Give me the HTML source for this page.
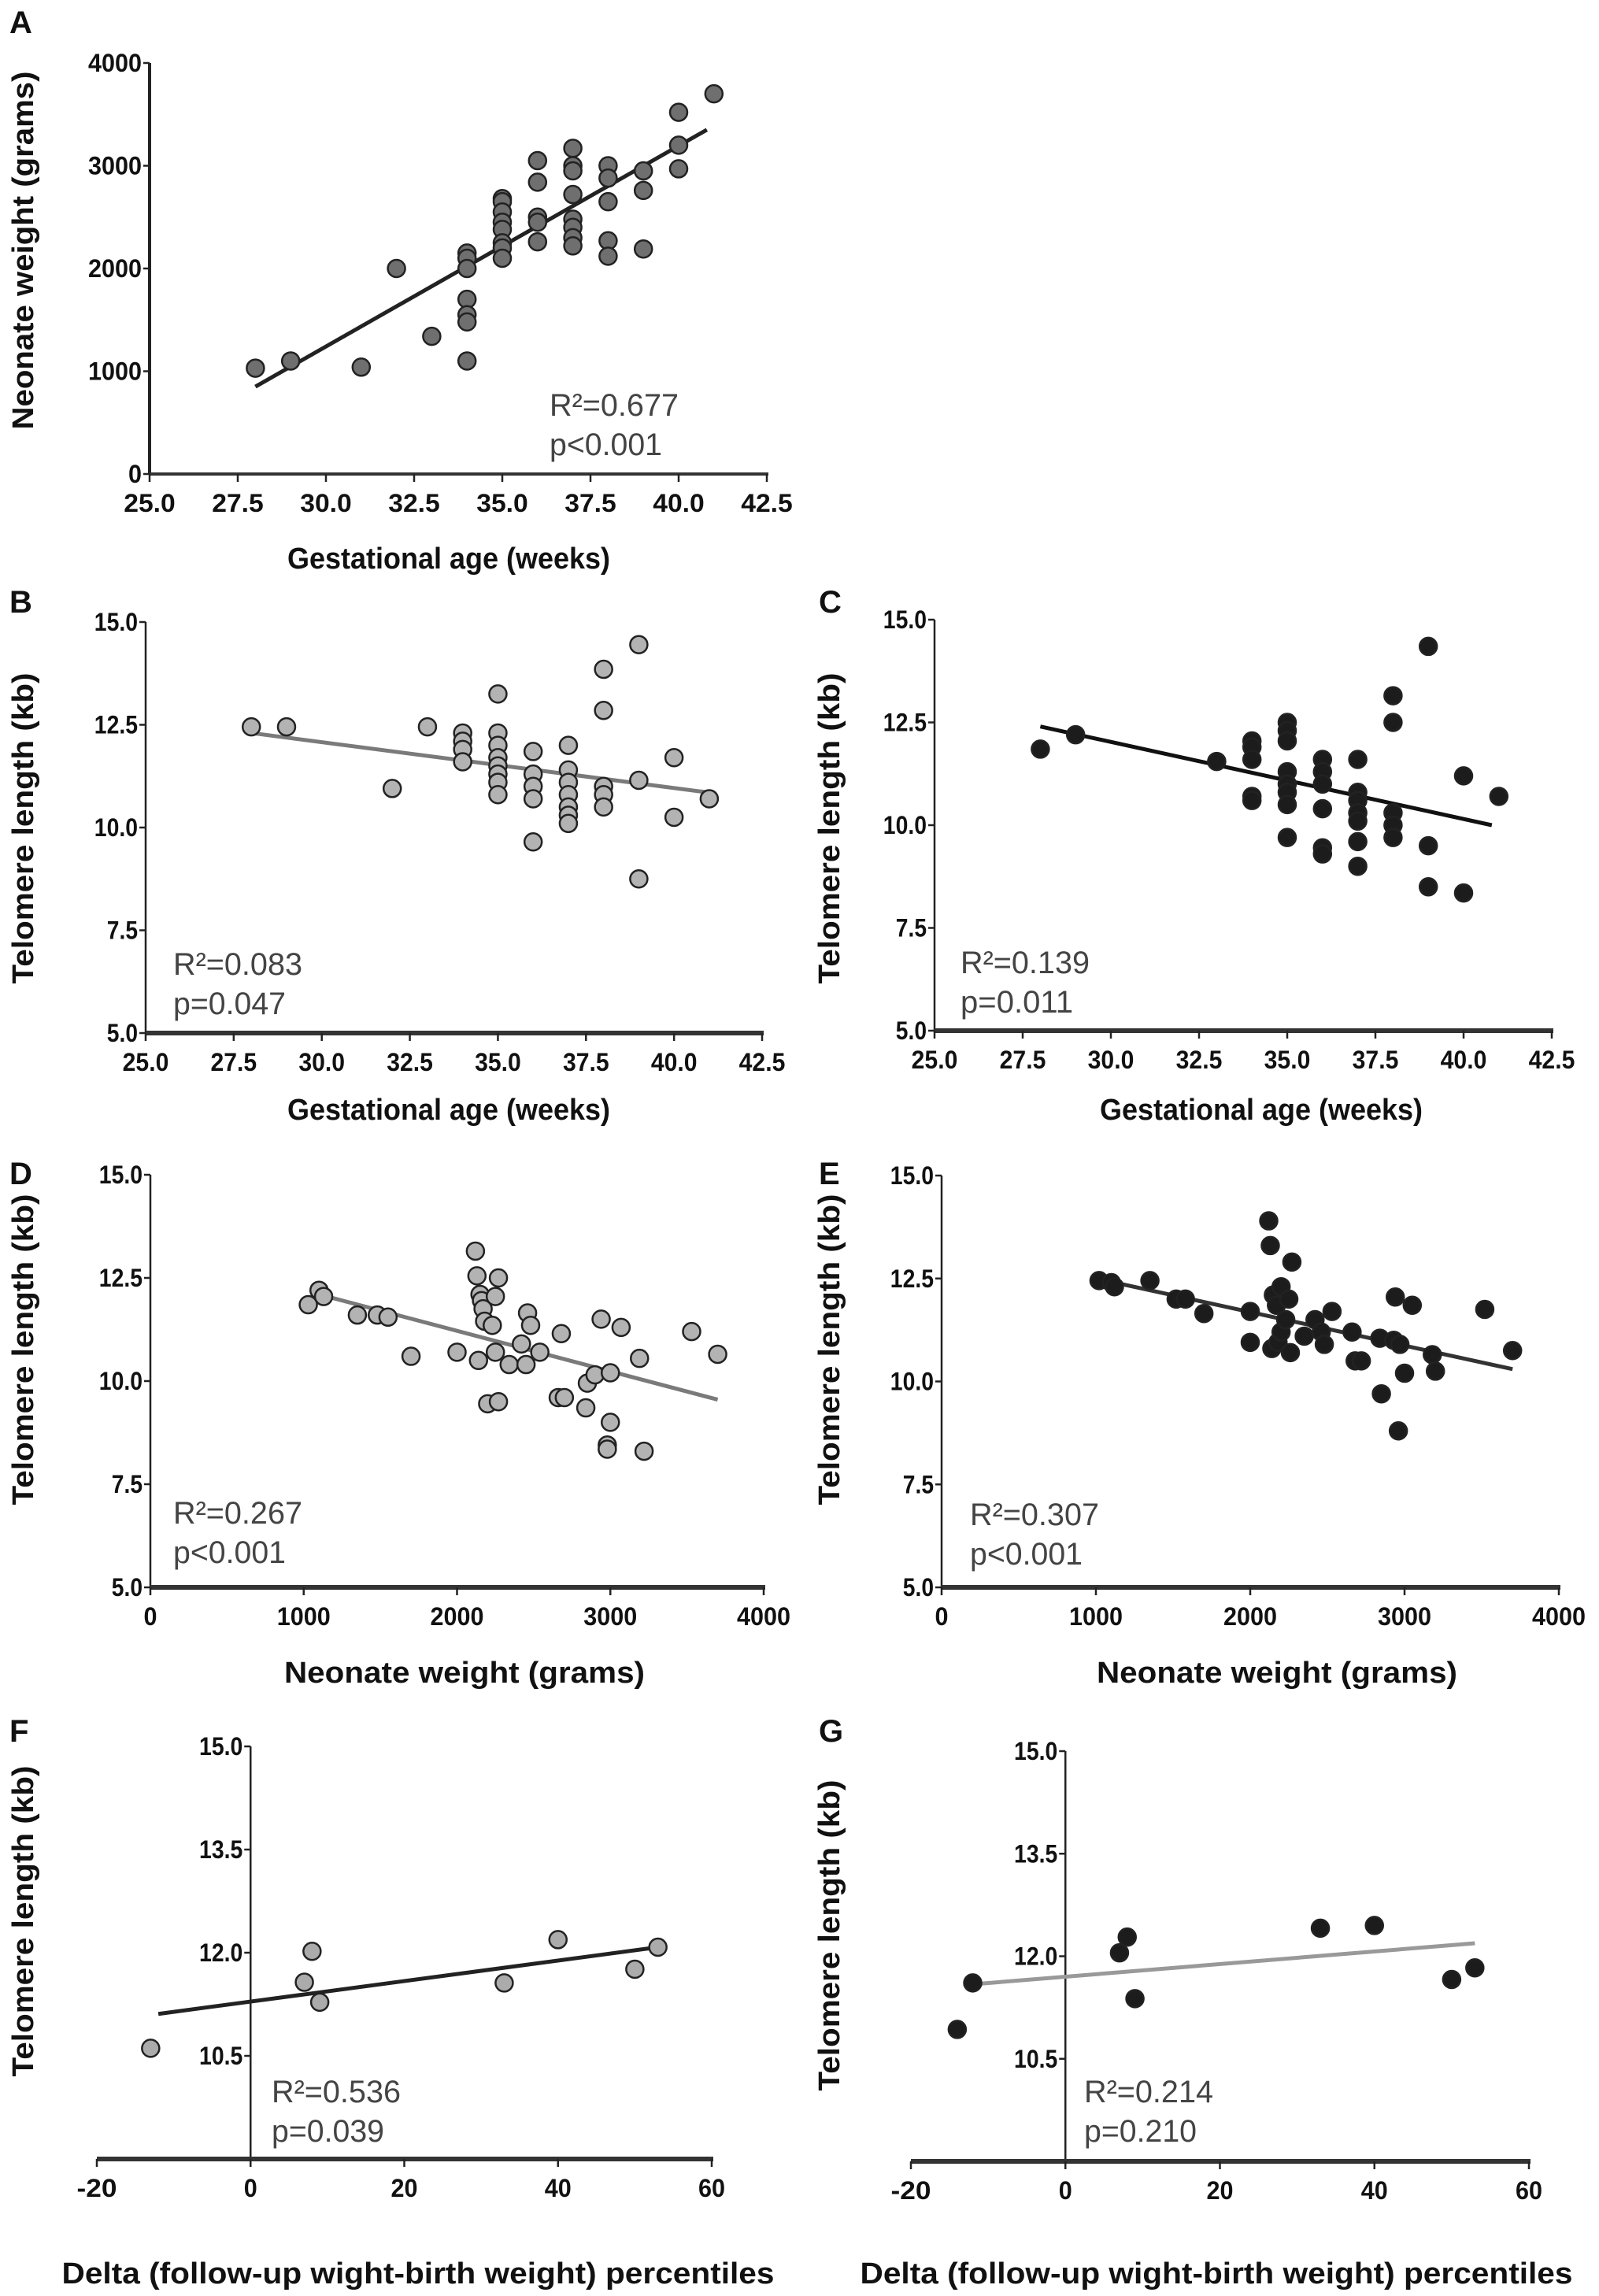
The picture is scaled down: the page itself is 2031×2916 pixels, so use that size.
<!DOCTYPE html>
<html><head><meta charset="utf-8"><style>
html,body{margin:0;padding:0;background:#fff;}
svg{display:block;font-family:"Liberation Sans",Arial,sans-serif;}
</style></head><body>
<svg id="fig" width="2031" height="2916" viewBox="0 0 2031 2916" xmlns="http://www.w3.org/2000/svg"></svg>
<script>
// Panel A: gestational age vs neonate weight
const aX=[28,29,31,32,33,34,34,34,34,34,34,34,35,35,35,35,35,35,35,35,36,36,36,36,36,37,37,37,37,37,37,37,37,38,38,38,38,38,39,39,39,40,40,40,41];
const aY=[1030,1100,1040,2000,1340,2150,2100,2000,1700,1550,1480,1100,2680,2650,2550,2450,2380,2250,2200,2100,3050,2840,2500,2450,2260,3170,3000,2950,2720,2480,2400,2300,2220,3000,2880,2650,2270,2120,2950,2760,2190,3520,3200,2970,3700];
const aFit=[[28,850],[40.8,3350]];
// Panel B
const bX=[28,29,32,33,34,34,34,34,35,35,35,35,35,35,35,35,36,36,36,36,36,37,37,37,37,37,37,37,38,38,38,38,38,39,39,39,40,40,41];
const bY=[12.45,12.45,10.95,12.45,12.3,12.1,11.9,11.6,13.25,12.3,12.0,11.7,11.5,11.3,11.1,10.8,11.85,11.3,11.0,10.7,9.65,12.0,11.4,11.1,10.8,10.5,10.3,10.1,13.85,12.85,11.0,10.8,10.5,14.45,11.15,8.75,11.7,10.25,10.7];
const bFit=[[28,12.3],[41,10.85]];
// Panel C
const cX=[28,29,33,34,34,34,34,34,35,35,35,35,35,35,35,35,36,36,36,36,36,36,37,37,37,37,37,37,37,38,38,38,38,38,39,39,39,40,40,41];
const cY=[11.85,12.2,11.55,12.05,11.9,11.6,10.7,10.6,12.5,12.3,12.05,11.3,11.0,10.8,10.5,9.7,11.6,11.3,11.0,10.4,9.45,9.3,11.6,10.8,10.6,10.3,10.1,9.6,9.0,13.15,12.5,10.3,10.0,9.7,14.35,9.5,8.5,11.2,8.35,10.7];
const cFit=[[28,12.4],[40.8,10.0]];
// Panel D
const dX=[1030,1100,1130,1350,1480,1550,1700,2000,2120,2130,2150,2160,2170,2180,2140,2200,2230,2250,2270,2250,2270,2340,2420,2460,2480,2450,2540,2680,2660,2700,2850,2840,2940,2900,2980,2980,3000,3000,3070,3190,3220,3530,3700];
const dY=[11.85,12.2,12.05,11.6,11.6,11.55,10.6,10.7,13.15,12.55,12.1,11.95,11.75,11.45,10.5,9.45,11.35,12.05,12.5,10.7,9.5,10.4,10.9,11.65,11.35,10.4,10.7,11.15,9.6,9.6,9.95,9.35,11.5,10.15,8.45,8.35,10.2,9.0,11.3,10.55,8.3,11.2,10.65];
const dFit=[[1100,12.1],[3700,9.55]];
// Panel E
const eX=[1020,1100,1120,1350,1520,1580,1700,2000,2000,2120,2130,2150,2170,2140,2180,2200,2200,2230,2250,2270,2260,2350,2420,2460,2480,2530,2660,2680,2720,2840,2850,2930,2940,2970,2960,3000,3050,3180,3200,3520,3700];
const eY=[12.45,12.4,12.3,12.45,12.0,12.0,11.65,11.7,10.95,13.9,13.3,12.1,11.85,10.8,10.95,12.3,11.2,11.5,12.0,12.9,10.7,11.1,11.5,11.2,10.9,11.7,11.2,10.5,10.5,11.05,9.7,11.0,12.05,10.9,8.8,10.2,11.85,10.65,10.25,11.75,10.75];
const eFit=[[1000,12.5],[3700,10.3]];
// Panel F
const fX=[-13,7,8,9,33,40,50,53];
const fY=[10.61,11.57,12.02,11.28,11.56,12.19,11.76,12.08];
const fFit=[[-12,11.11],[53,12.08]];
// Panel G
const gX=[-14,-12,7,8,9,33,40,50,53];
const gY=[10.93,11.61,12.05,12.28,11.38,12.41,12.45,11.66,11.83];
const gFit=[[-12,11.59],[53,12.19]];
// tick labels
const gaTicks=["25.0","27.5","30.0","32.5","35.0","37.5","40.0","42.5"];
const wTicks=["0","1000","2000","3000","4000"];
const tlTicks=["5.0","7.5","10.0","12.5","15.0"];
const fgYTicks=["10.5","12.0","13.5","15.0"];
const fgXTicks=["-20","0","20","40","60"];

const NS="http://www.w3.org/2000/svg";
const svg=document.getElementById('fig');
function mk(tag,attrs,parent){const e=document.createElementNS(NS,tag);for(const k in attrs){if(attrs[k]!==null)e.setAttribute(k,attrs[k]);}(parent||svg).appendChild(e);return e;}
function txt(s,attrs,parent){const e=mk('text',attrs,parent);e.textContent=s;return e;}
function tw(s,perChar,perDot){let w=0;for(const ch of s){w+=(ch==='.')?perDot:perChar;}return w;}

function panel(p){
  const g=mk('g',{});
  
  
  const sx=v=>p.x0+(v-p.xd[0])/(p.xd[1]-p.xd[0])*(p.x1-p.x0);
  const sy=v=>p.y0-(v-p.yd[0])/(p.yd[1]-p.yd[0])*(p.y0-p.y1);
  const yAxisX=p.yAxisAt!==undefined?sx(p.yAxisAt):p.x0;
  const ya=mk('line',{x1:yAxisX,y1:p.y1,x2:yAxisX,y2:p.y0,stroke:'#222','stroke-width':p.yw},g);
  
  
  const xa=mk('line',{x1:p.x0,y1:p.y0,x2:p.x1+2,y2:p.y0,stroke:'#333','stroke-width':p.xw},g);
  
  
  p.yt.forEach(s=>{const v=parseFloat(s),y=sy(v);
    mk('line',{x1:yAxisX-8,y1:y,x2:yAxisX,y2:y,stroke:'#222','stroke-width':2.5},g);
    const t=txt(s,{x:yAxisX-10,y:y+11,'text-anchor':'end','font-size':p.tfs,'font-weight':'bold',fill:'#111',textLength:tw(s,p.ycw,p.ycw*0.45),lengthAdjust:'spacingAndGlyphs'},g);
    
    
  });
  p.xt.forEach(s=>{const v=parseFloat(s),x=sx(v);
    mk('line',{x1:x,y1:p.y0,x2:x,y2:p.y0+10,stroke:'#222','stroke-width':2.5},g);
    const t=txt(s,{x:x,y:p.y0+p.xlo,'text-anchor':'middle','font-size':p.tfs,'font-weight':'bold',fill:'#111',textLength:tw(s,p.xcw,p.xcw*0.45),lengthAdjust:'spacingAndGlyphs'},g);
    
    
  });
  const fl=mk('line',{x1:sx(p.fit[0][0]),y1:sy(p.fit[0][1]),x2:sx(p.fit[1][0]),y2:sy(p.fit[1][1]),stroke:p.lc,'stroke-width':5},g);
  
  
  p.xs.forEach((xv,i)=>{
    const c=mk('circle',{cx:sx(xv),cy:sy(p.ys[i]),r:11,fill:p.fc,stroke:'#222','stroke-width':2.5},g);
    
    
  });
  const l=txt(p.id,{x:p.lx,y:p.ly,'font-size':40,'font-weight':'bold',fill:'#111'},g);
  
  
  const s1=txt(p.r2,{x:p.sx,y:p.sy,'font-size':40,fill:'#444',textLength:164,lengthAdjust:'spacingAndGlyphs'},g);
  
  
  const s2=txt(p.pv,{x:p.sx,y:p.sy+50,'font-size':40,fill:'#444',textLength:143,lengthAdjust:'spacingAndGlyphs'},g);
  
  
  const xt=txt(p.xtitle,{x:p.xtx,y:p.xty,'text-anchor':'middle','font-size':38,'font-weight':'bold',fill:'#111',textLength:p.xtl,lengthAdjust:'spacingAndGlyphs'},g);
  
  
  const yt=txt(p.ytitle,{x:0,y:0,'text-anchor':'middle','font-size':38,'font-weight':'bold',fill:'#111',textLength:p.ytl,lengthAdjust:'spacingAndGlyphs',transform:`translate(${p.ytx},${p.yty}) rotate(-90)`},g);
  
  
}

panel({id:'A',x0:190,x1:974,y0:602,y1:80,xd:[25,42.5],yd:[0,4000],xt:gaTicks,yt:["0","1000","2000","3000","4000"],
 xs:aX,ys:aY,fit:aFit,fc:'#6f6f6f',lc:'#222',yw:4,xw:4,tfs:32,xlo:48,ycw:17,xcw:19,
 lx:12,ly:42,r2:'R²=0.677',pv:'p<0.001',sx:698,sy:528,xtitle:'Gestational age (weeks)',xtx:570,xty:722,xtl:410,ytitle:'Neonate weight (grams)',ytx:42,yty:318,ytl:455});
panel({id:'B',x0:185,x1:968,y0:1312,y1:790,xd:[25,42.5],yd:[5,15],xt:gaTicks,yt:tlTicks,
 xs:bX,ys:bY,fit:bFit,fc:'#b3b3b3',lc:'#7a7a7a',yw:2.5,xw:6,tfs:32,xlo:48,ycw:16,xcw:17,
 lx:12,ly:778,r2:'R²=0.083',pv:'p=0.047',sx:220,sy:1238,xtitle:'Gestational age (weeks)',xtx:570,xty:1422,xtl:410,ytitle:'Telomere length (kb)',ytx:42,yty:1052,ytl:395});
panel({id:'C',x0:1187,x1:1971,y0:1309,y1:787,xd:[25,42.5],yd:[5,15],xt:gaTicks,yt:tlTicks,
 xs:cX,ys:cY,fit:cFit,fc:'#1c1c1c',lc:'#111',yw:2.5,xw:6,tfs:32,xlo:48,ycw:16,xcw:17,
 lx:1040,ly:778,r2:'R²=0.139',pv:'p=0.011',sx:1220,sy:1236,xtitle:'Gestational age (weeks)',xtx:1602,xty:1422,xtl:410,ytitle:'Telomere length (kb)',ytx:1066,yty:1052,ytl:395});
panel({id:'D',x0:191,x1:970,y0:2016,y1:1492,xd:[0,4000],yd:[5,15],xt:wTicks,yt:tlTicks,
 xs:dX,ys:dY,fit:dFit,fc:'#b3b3b3',lc:'#7a7a7a',yw:2.5,xw:6,tfs:32,xlo:48,ycw:16,xcw:17,
 lx:12,ly:1504,r2:'R²=0.267',pv:'p<0.001',sx:220,sy:1935,xtitle:'Neonate weight (grams)',xtx:590,xty:2137,xtl:458,ytitle:'Telomere length (kb)',ytx:42,yty:1714,ytl:395});
panel({id:'E',x0:1196,x1:1980,y0:2016,y1:1493,xd:[0,4000],yd:[5,15],xt:wTicks,yt:tlTicks,
 xs:eX,ys:eY,fit:eFit,fc:'#1c1c1c',lc:'#333',yw:2.5,xw:6,tfs:32,xlo:48,ycw:16,xcw:17,
 lx:1040,ly:1504,r2:'R²=0.307',pv:'p<0.001',sx:1232,sy:1937,xtitle:'Neonate weight (grams)',xtx:1622,xty:2137,xtl:458,ytitle:'Telomere length (kb)',ytx:1066,yty:1714,ytl:395});
panel({id:'F',x0:123,x1:904,y0:2742,y1:2218,xd:[-20,60],yd:[9,15],yAxisAt:0,xt:fgXTicks,yt:fgYTicks,
 xs:fX,ys:fY,fit:fFit,fc:'#ababab',lc:'#222',yw:2.5,xw:6,tfs:32,xlo:48,ycw:16,xcw:17,
 lx:12,ly:2212,r2:'R²=0.536',pv:'p=0.039',sx:345,sy:2670,xtitle:'Delta (follow-up wight-birth weight) percentiles',xtx:531,xty:2900,xtl:905,ytitle:'Telomere length (kb)',ytx:42,yty:2440,ytl:395});
panel({id:'G',x0:1157,x1:1942,y0:2745,y1:2224,xd:[-20,60],yd:[9,15],yAxisAt:0,xt:fgXTicks,yt:fgYTicks,
 xs:gX,ys:gY,fit:gFit,fc:'#1c1c1c',lc:'#999',yw:2.5,xw:6,tfs:32,xlo:48,ycw:16,xcw:17,
 lx:1040,ly:2212,r2:'R²=0.214',pv:'p=0.210',sx:1377,sy:2670,xtitle:'Delta (follow-up wight-birth weight) percentiles',xtx:1545,xty:2900,xtl:905,ytitle:'Telomere length (kb)',ytx:1066,yty:2458,ytl:395});
</script>
</body></html>
